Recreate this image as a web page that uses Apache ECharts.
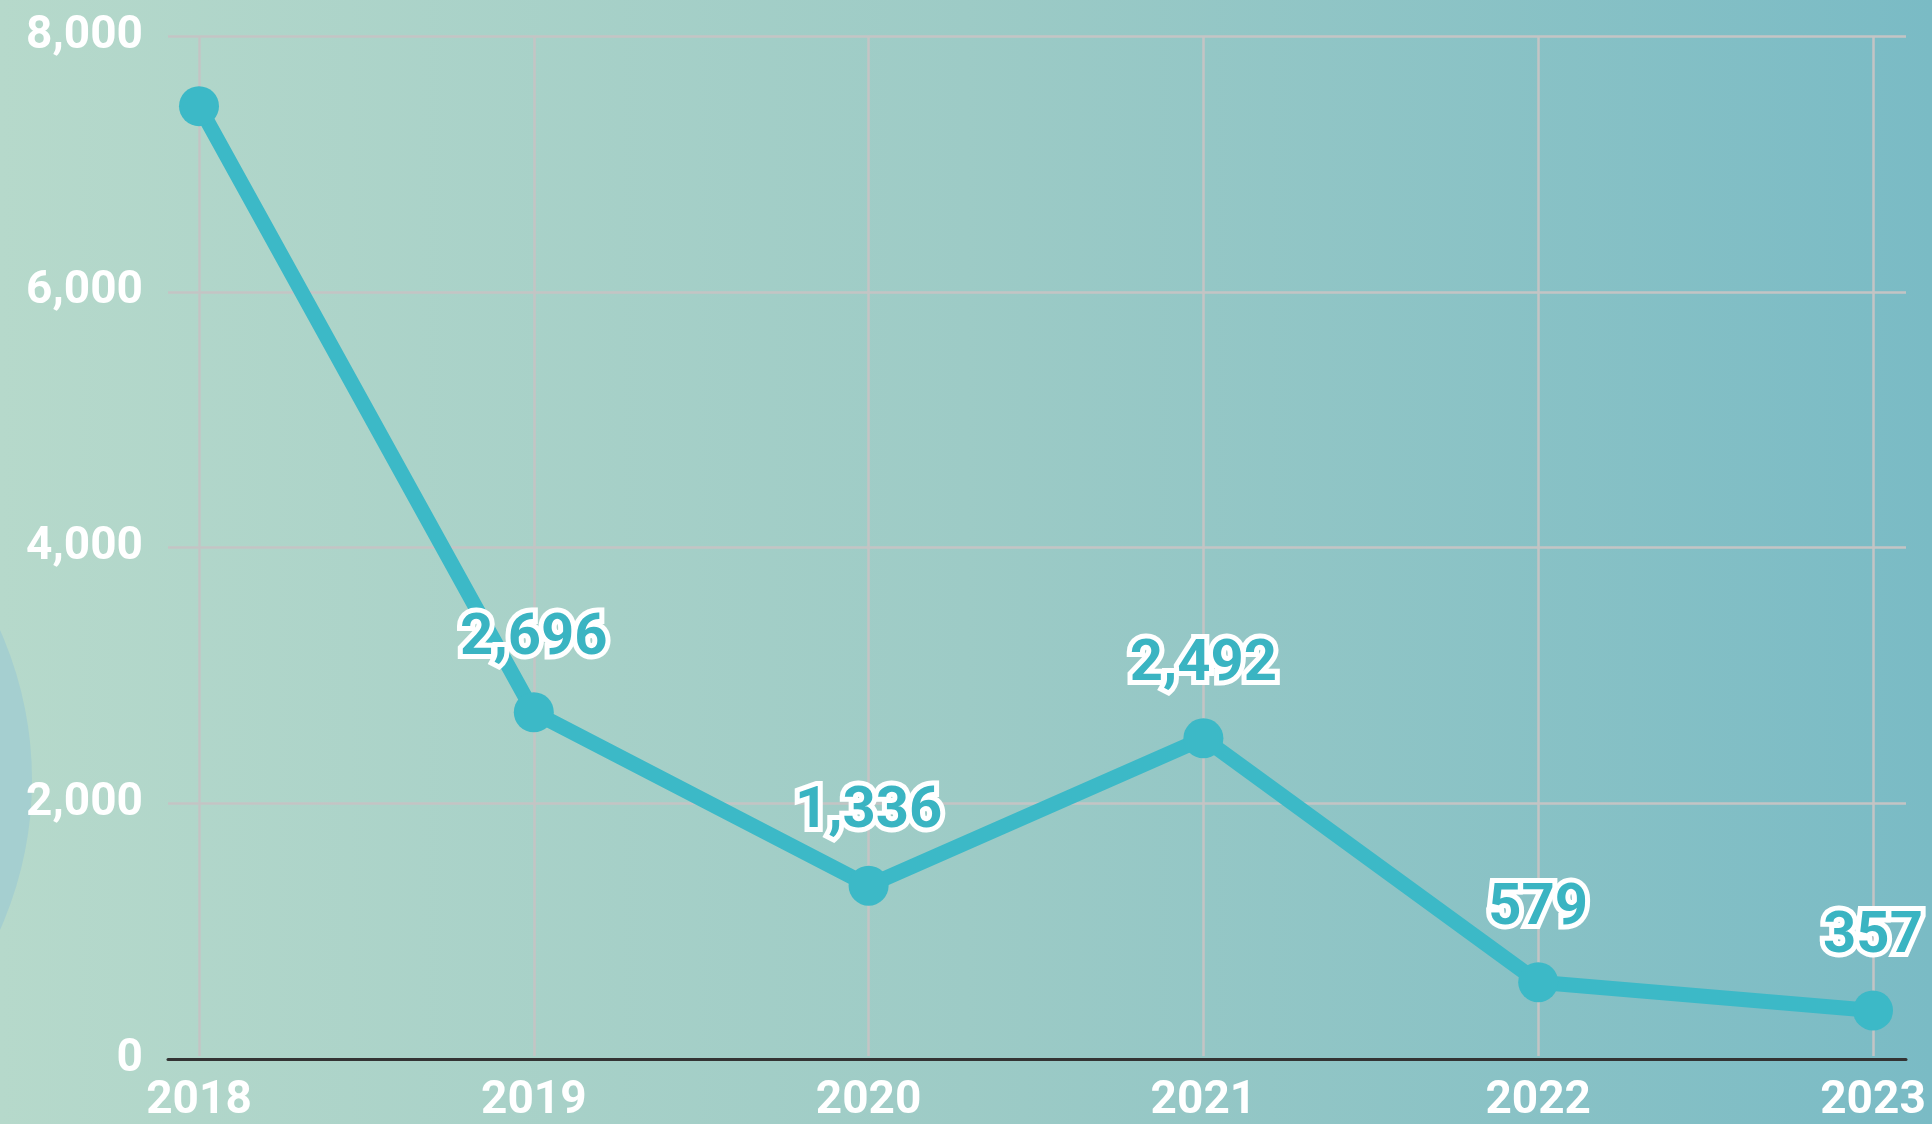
<!DOCTYPE html>
<html>
<head>
<meta charset="utf-8">
<style>
  html, body { margin: 0; padding: 0; }
  #chart { width: 1932px; height: 1124px; }
</style>
<script src="https://cdn.jsdelivr.net/npm/echarts@6/dist/echarts.min.js"></script>
</head>
<body>
<div id="chart"></div>
<script>
var years = ['2018', '2019', '2020', '2021', '2022', '2023'];
var counts = [7450, 2696, 1336, 2492, 579, 357];
var showLabel = [false, true, true, true, true, true];
var yTicks = [0, 2000, 4000, 6000, 8000];

var lineColor = '#3cb9c7';

function fmt(v) {
    return String(v).replace(/\B(?=(\d{3})+(?!\d))/g, ',');
}

var chart = echarts.init(document.getElementById('chart'));

var points = counts.map(function (v, i) {
    return { value: v, label: { show: showLabel[i] } };
});

var option = {
    backgroundColor: {
        type: 'linear', x: 0, y: 0, x2: 1, y2: 0,
        colorStops: [
            { offset: 0, color: '#b6d9cb' },
            { offset: 0.5, color: '#9dcbc6' },
            { offset: 1, color: '#7abbc5' }
        ]
    },
    graphic: [
        {
            type: 'circle',
            shape: { cx: -335, cy: 780, r: 367 },
            style: { fill: '#a5cfd0' },
            z: -1
        }
    ],
    grid: [
        // data grid
        { left: 199, right: 59, top: 36, bottom: 65 },
        // wider grid for horizontal lines and base axis
        { left: 168, right: 26, top: 36, bottom: 65 }
    ],
    xAxis: [
        {
            type: 'category',
            gridIndex: 0,
            data: years,
            boundaryGap: false,
            axisLine: { show: false },
            axisTick: { show: false },
            axisLabel: {
                color: '#ffffff',
                fontFamily: 'Roboto',
                fontWeight: 'bold',
                fontSize: 46,
                margin: 22
            },
            splitLine: { show: true, lineStyle: { color: '#c4c4c4', width: 2.5 } }
        },
        {
            type: 'value',
            gridIndex: 1,
            min: 0, max: 1,
            axisLine: { show: true, onZero: false, lineStyle: { color: '#333333', width: 3 } },
            axisTick: { show: false },
            axisLabel: { show: false },
            splitLine: { show: false }
        }
    ],
    yAxis: [
        {
            type: 'value',
            gridIndex: 0,
            min: yTicks[0], max: yTicks[yTicks.length - 1], interval: 2000,
            axisLine: { show: false },
            axisTick: { show: false },
            axisLabel: { show: false },
            splitLine: { show: false }
        },
        {
            type: 'value',
            gridIndex: 1,
            min: yTicks[0], max: yTicks[yTicks.length - 1], interval: 2000,
            axisLine: { show: false },
            axisTick: { show: false },
            axisLabel: {
                color: '#ffffff',
                fontFamily: 'Roboto',
                fontWeight: 'bold',
                fontSize: 46,
                margin: 25,
                formatter: function (v) { return fmt(v); }
            },
            splitLine: { show: true, lineStyle: { color: '#c4c4c4', width: 2.5 } }
        }
    ],
    series: [
        {
            type: 'line',
            xAxisIndex: 0,
            yAxisIndex: 0,
            data: points,
            symbol: 'circle',
            symbolSize: 40,
            z: 5,
            lineStyle: { color: lineColor, width: 15 },
            itemStyle: { color: lineColor },
            label: {
                position: 'top',
                distance: 24,
                color: '#3ab4c2',
                fontFamily: 'Roboto',
                fontWeight: 'bold',
                fontSize: 58,
                textBorderColor: '#ffffff',
                textBorderWidth: 10,
                formatter: function (p) { return fmt(p.value); }
            },
            emphasis: { disabled: true },
            animation: false
        }
    ]
};

chart.setOption(option);
</script>
</body>
</html>
